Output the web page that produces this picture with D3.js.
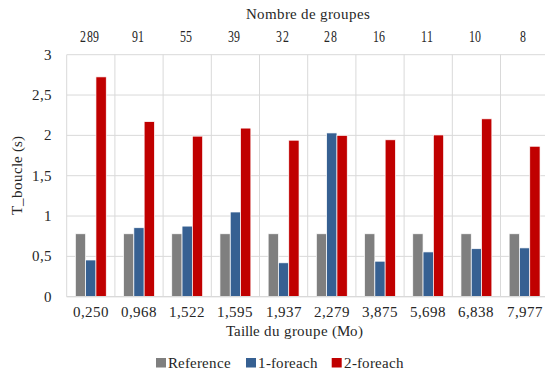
<!DOCTYPE html>
<html><head><meta charset="utf-8">
<script src="https://cdn.jsdelivr.net/npm/d3@7"></script>
<style>
@font-face{font-family:"RefSerif";src:local("Liberation Serif"),local("LiberationSerif"),local("Liberation Serif Regular"),local("LiberationSerif-Regular");}
body{margin:0}
svg text{font-family:"RefSerif","Liberation Serif",serif;}
</style>
</head><body>
<script>
const sizes = ["0,250","0,968","1,522","1,595","1,937","2,279","3,875","5,698","6,838","7,977"];
const groupCounts = ["289","91","55","39","32","28","16","11","10","8"];
const seriesNames = ["Reference","1-foreach","2-foreach"];
const reference = [0.78,0.78,0.78,0.78,0.78,0.78,0.78,0.78,0.78,0.78];
const foreach1 = [0.455,0.855,0.875,1.05,0.42,2.03,0.44,0.555,0.595,0.605];
const foreach2 = [2.725,2.17,1.99,2.09,1.94,2.0,1.945,2.005,2.205,1.865];
const yTicks = [0,0.5,1,1.5,2,2.5,3];
const colors = ["#7f7f7f","#366092","#c00000"];

const W=545,H=374;
const m={left:66.7,top:54.7,bottom:296.7,right:66.7+48.2*10};
const svg=d3.select("body").append("svg").attr("width",W).attr("height",H);
const x=d3.scaleBand().domain(sizes).range([m.left,m.right]).paddingInner(0).paddingOuter(0);
const x1=d3.scaleBand().domain(seriesNames).range([0,x.bandwidth()]).paddingInner(0).paddingOuter(0.84);
const y=d3.scaleLinear().domain([0,3]).range([m.bottom,m.top]);
const fmt=d=>String(d).replace(".",",");

svg.append("g").selectAll("line").data(yTicks).join("line")
 .attr("x1",m.left).attr("x2",m.right).attr("y1",d=>y(d)).attr("y2",d=>y(d))
 .attr("stroke","#d9d9d9").attr("stroke-width",1);
const seps=sizes.map(s=>x(s)).concat([m.right]);
svg.append("g").selectAll("line").data(seps).join("line")
 .attr("x1",d=>d).attr("x2",d=>d).attr("y1",m.top).attr("y2",m.bottom)
 .attr("stroke","#d9d9d9").attr("stroke-width",1);

const seriesData=[reference,foreach1,foreach2];
seriesNames.forEach((name,si)=>{
  svg.append("g").selectAll("rect").data(seriesData[si]).join("rect")
   .attr("x",(d,i)=>x(sizes[i])+x1(name))
   .attr("width",x1.bandwidth())
   .attr("y",d=>y(d)).attr("height",d=>y(0)-y(d))
   .attr("fill",colors[si]).attr("stroke","#fff").attr("stroke-width",0.7);
});

svg.append("line").attr("x1",m.left).attr("x2",m.right).attr("y1",y(0)).attr("y2",y(0))
 .attr("stroke","#d9d9d9").attr("stroke-width",1.2);

const T=(sel)=>sel.attr("font-family","RefSerif, 'Liberation Serif', serif").attr("fill","#262626");

T(svg.append("g").selectAll("text").data(yTicks).join("text"))
 .attr("x",51.5).attr("y",d=>y(d)+5).attr("text-anchor","end")
 .attr("font-size",15).text(fmt);

T(svg.append("g").selectAll("text").data(sizes).join("text"))
 .attr("x",d=>x(d)+x.bandwidth()/2).attr("y",317).attr("text-anchor","middle")
 .attr("font-size",15).text(d=>d);

T(svg.append("g").selectAll("text").data(groupCounts).join("text"))
 .attr("transform",(d,i)=>`translate(${x(sizes[i])+x.bandwidth()/2-1},42) scale(0.7,1)`)
 .attr("text-anchor","middle").attr("font-size",17.5).text(d=>d);

T(svg.append("text")).attr("x",308).attr("y",19).attr("text-anchor","middle")
 .attr("font-size",15).text("Nombre de groupes");
T(svg.append("text")).attr("x",294).attr("y",336).attr("text-anchor","middle")
 .attr("font-size",15).text("Taille du groupe (Mo)");
T(svg.append("text")).attr("transform","translate(22,175.7) rotate(-90)").attr("text-anchor","middle")
 .attr("font-size",15).text("T_boucle (s)");

const legX=[156,246,331.7];
const lg=svg.append("g");
seriesNames.forEach((n,i)=>{
  lg.append("rect").attr("x",legX[i]).attr("y",358).attr("width",10).attr("height",9.5).attr("fill",colors[i]);
  T(lg.append("text")).attr("x",legX[i]+12).attr("y",367.5).attr("font-size",15).text(n);
});
</script>
</body></html>
